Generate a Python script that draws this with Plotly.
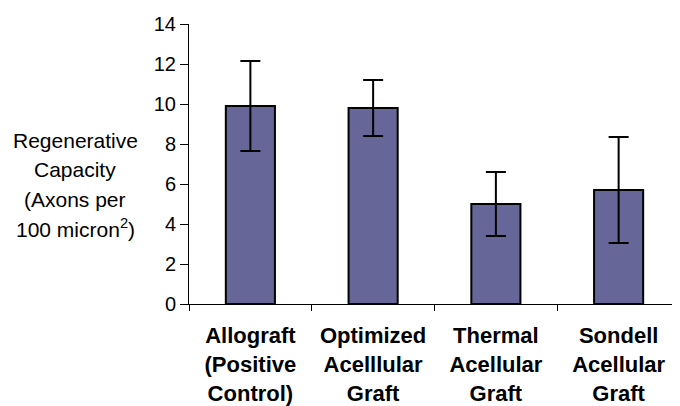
import plotly.graph_objects as go

categories = ["Allograft<br>(Positive<br>Control)",
              "Optimized<br>Acelllular<br>Graft",
              "Thermal<br>Acellular<br>Graft",
              "Sondell<br>Acellular<br>Graft"]
values = [9.9, 9.8, 5.0, 5.7]
errors = [2.25, 1.4, 1.6, 2.65]
y_ticks = [0, 2, 4, 6, 8, 10, 12, 14]
y_title_lines = ["Regenerative", "Capacity", "(Axons per", "100 micron<sup>2</sup>)"]

FONT = "Liberation Sans, Arial, sans-serif"

fig = go.Figure()
fig.add_trace(go.Bar(
    x=categories, y=values,
    width=0.4,
    marker=dict(color="#666699", line=dict(color="black", width=2)),
    error_y=dict(type="data", array=errors, visible=True,
                 color="black", thickness=2, width=10),
))

# page body has an 8px margin, so the figure is 8px smaller and shifted
fig.update_layout(
    width=672, height=398,
    margin=dict(l=181, r=0, t=16, b=102),
    paper_bgcolor="white", plot_bgcolor="white",
    showlegend=False,
    font=dict(family=FONT, color="black"),
    bargap=0.6,
)
fig.update_xaxes(
    type="category", range=[-0.5, 3.5],
    showline=True, linecolor="black", linewidth=1,
    ticks="outside", tickson="boundaries", ticklen=6, tickcolor="black",
    tickfont=dict(family=FONT, size=22, color="black", weight="bold"),
    ticklabelstandoff=12,
    showgrid=False, zeroline=False,
)
fig.update_yaxes(
    range=[0, 14], tickvals=y_ticks,
    showline=True, linecolor="black", linewidth=1,
    ticks="outside", ticklen=8, tickcolor="black",
    tickfont=dict(family=FONT, size=20, color="black"),
    showgrid=False, zeroline=False,
)

line_ys = [140, 169.5, 199, 227.5]
for txt, py in zip(y_title_lines, line_ys):
    fig.add_annotation(
        text=txt, xref="paper", yref="paper",
        x=(75 - 189) / 491, y=(304 - py) / 280,
        xanchor="center", yanchor="middle", showarrow=False,
        font=dict(family=FONT, size=21, color="black"),
    )

fig.write_html("out.html")
